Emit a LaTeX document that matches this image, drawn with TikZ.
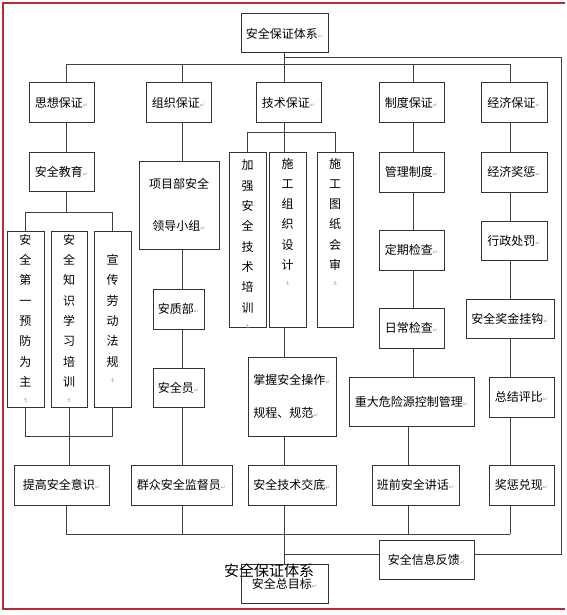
\documentclass[tikz,border=0pt]{standalone}
\usepackage{fontspec}
\usepackage{graphicx}
\newfontfamily\cjk{Noto Sans CJK SC}
\newfontfamily\symfont{DejaVu Sans}
\definecolor{framered}{RGB}{185,45,50}
% paragraph marks
\newcommand\mk{{\symfont\fontsize{6}{6}\selectfont\textcolor{black!40}{↵}}}
\newcommand\vmk{\rotatebox{-90}{\mk}}
% vertical text column
\newcommand\vcol[3]{\parbox[c][#1][#2]{14pt}{\centering\baselineskip=20.3pt\relax #3\\[-8pt]\vmk}}

\begin{document}
\begin{tikzpicture}[x=1pt,y=-1pt,
  box/.style={draw=black!80, line width=1pt, inner sep=0pt, font=\cjk\fontsize{12}{14}\selectfont},
  link/.style={draw=black!75, line width=1pt}]
\useasboundingbox (0,0) rectangle (566,615);

% frame
\draw[framered, line width=1.3pt] (565,3) -- (3,3) -- (3,609) -- (565,609);

% top
\node[box, minimum width=87pt, minimum height=39pt] (top) at (284.5,33.5) {安全保证体系\mk};

% first row
\node[box, minimum width=65pt, minimum height=39pt] (sx) at (61.5,102.5) {思想保证\mk};
\node[box, minimum width=65pt, minimum height=39pt] (zz) at (178.5,102.5) {组织保证\mk};
\node[box, minimum width=65pt, minimum height=39pt] (js) at (288.5,102.5) {技术保证\mk};
\node[box, minimum width=65pt, minimum height=39pt] (zd) at (411.5,102.5) {制度保证\mk};
\node[box, minimum width=66pt, minimum height=39pt] (jj) at (514,102.5) {经济保证\mk};

% thought
\node[box, minimum width=65pt, minimum height=39pt] (aqjy) at (61.5,171.5) {安全教育\mk};
\node[box, minimum width=37pt, minimum height=176pt] (dyyf) at (25.5,319) {\vcol{176pt}{c}{安\\全\\第\\一\\预\\防\\为\\主}};
\node[box, minimum width=36pt, minimum height=176pt] (zsxx) at (69,319) {\vcol{176pt}{c}{安\\全\\知\\识\\学\\习\\培\\训}};
\node[box, minimum width=37pt, minimum height=176pt] (xc) at (112.5,319) {\vcol{176pt}{c}{宣\\传\\劳\\动\\法\\规}};
\node[box, minimum width=95pt, minimum height=40pt] (tg) at (61.5,485) {提高安全意识\mk};

% organisation
\node[box, minimum width=80pt, minimum height=88pt, align=center, font=\cjk\fontsize{12}{42}\selectfont] (xmb) at (179,205) {项目部安全\\领导小组\mk};
\node[box, minimum width=51pt, minimum height=40pt] (azb) at (178.5,309) {安质部\mk};
\node[box, minimum width=51pt, minimum height=39pt] (aqy) at (178.5,387.5) {安全员\mk};
\node[box, minimum width=101pt, minimum height=40pt] (qz) at (181.5,485) {群众安全监督员\mk};

% technique
\node[box, minimum width=37pt, minimum height=175pt] (jq) at (247.5,239.5) {\vcol{175pt}{t}{\vspace*{8pt}加\\强\\安\\全\\技\\术\\培\\训}};
\node[box, minimum width=37pt, minimum height=175pt] (sg) at (287.5,239.5) {\vcol{175pt}{t}{\vspace*{6pt}施\\工\\组\\织\\设\\计}};
\node[box, minimum width=36pt, minimum height=175pt] (tz) at (335,239.5) {\vcol{175pt}{t}{\vspace*{6pt}施\\工\\图\\纸\\会\\审}};
\node[box, minimum width=88pt, minimum height=79pt, align=left, font=\cjk\fontsize{12}{33}\selectfont] (zw) at (292,396.5) {\raisebox{-5pt}{掌握安全操作\mk}\\\raisebox{-5pt}{规程、规范\mk}};
\node[box, minimum width=88pt, minimum height=40pt] (jd) at (292,485) {安全技术交底\mk};

% system
\node[box, minimum width=65pt, minimum height=40pt] (glzd) at (411.5,172) {管理制度\mk};
\node[box, minimum width=65pt, minimum height=40pt] (dq) at (411.5,250) {定期检查\mk};
\node[box, minimum width=65pt, minimum height=40pt] (rc) at (411.5,328) {日常检查\mk};
\node[box, minimum width=125pt, minimum height=49pt] (zdw) at (411.5,401.5) {重大危险源控制管理\mk};
\node[box, minimum width=87pt, minimum height=40pt] (bq) at (415.5,485) {班前安全讲话\mk};

% economy
\node[box, minimum width=66pt, minimum height=40pt] (jjjc) at (514,172) {经济奖惩\mk};
\node[box, minimum width=66pt, minimum height=39pt] (xz) at (514,240.5) {行政处罚\mk};
\node[box, minimum width=88pt, minimum height=39pt] (jg) at (510,318.5) {安全奖金挂钩\mk};
\node[box, minimum width=65pt, minimum height=40pt] (zj) at (521.5,397) {总结评比\mk};
\node[box, minimum width=65pt, minimum height=40pt] (dx) at (521.5,485) {奖惩兑现\mk};

% bottom
\node[box, minimum width=95pt, minimum height=39pt] (fk) at (426.5,559.5) {安全信息反馈\mk};
\node[box, minimum width=87pt, minimum height=39pt] (mb) at (284.5,583.5) {\raisebox{-7pt}{安全总目标\mk}};
\node[inner sep=0pt, font=\cjk\fontsize{15}{15}\selectfont] (cap) at (269,570.5) {安全保证体系};

% column lines and levels
\coordinate (c1) at (66,0);
\coordinate (c2) at (182,0);
\coordinate (c3) at (284,0);
\coordinate (c4) at (413,0);
\coordinate (c4b) at (408,0);
\coordinate (c5) at (510,0);
\coordinate (br) at (0,65);
\coordinate (b1) at (0,212);
\coordinate (b2) at (0,436);
\coordinate (b3) at (0,534);
\coordinate (b4) at (0,132);
\coordinate (fb) at (0,554);
\coordinate (rt) at (561,58);

% branches under the top
\draw[link] (top.south -| c3) -- (c3 |- br);
\draw[link] (sx.north -| c1) -- (c1 |- br) -- (c5 |- br) -- (jj.north -| c5);
\foreach \n/\c in {zz/c2, js/c3, zd/c4}
  \draw[link] (\n.north -| \c) -- (\c |- br);

% feedback loop
\draw[link] (c3 |- rt) -- (rt) -- (rt |- fb) -- (fk.east |- fb);
\draw[link] (fk.west |- fb) -- (c3 |- fb);

% thought
\draw[link] (sx.south -| c1) -- (aqjy.north -| c1);
\draw[link] (aqjy.south -| c1) -- (c1 |- b1);
\draw[link] (dyyf.north) -- (dyyf.north |- b1) -- (xc.north |- b1) -- (xc.north);
\draw[link] (dyyf.south) -- (dyyf.south |- b2) -- (xc.south |- b2) -- (xc.south);
\draw[link] (zsxx.south) -- (zsxx.south |- tg.north);
\draw[link] (tg.south -| c1) -- (c1 |- b3);

% organisation
\foreach \a/\b in {zz/xmb, xmb/azb, azb/aqy, aqy/qz}
  \draw[link] (\a.south -| c2) -- (\b.north -| c2);
\draw[link] (qz.south -| c2) -- (c2 |- b3);

% technique
\draw[link] (js.south -| c3) -- (sg.north -| c3);
\draw[link] (jq.north) -- (jq.north |- b4) -- (tz.north |- b4) -- (tz.north);
\draw[link] (sg.south -| c3) -- (zw.north -| c3);
\draw[link] (zw.south -| c3) -- (jd.north -| c3);
\draw[link] (jd.south -| c3) -- (mb.north -| c3);

% system
\foreach \a/\b in {zd/glzd, glzd/dq, dq/rc, rc/zdw}
  \draw[link] (\a.south -| c4) -- (\b.north -| c4);
\draw[link] (zdw.south -| c4b) -- (bq.north -| c4b);
\draw[link] (bq.south -| c4b) -- (c4b |- b3);

% economy
\foreach \a/\b in {jj/jjjc, jjjc/xz, xz/jg, jg/zj, zj/dx}
  \draw[link] (\a.south -| c5) -- (\b.north -| c5);
\draw[link] (dx.south -| c5) -- (c5 |- b3);

% bottom collector
\draw[link] (c1 |- b3) -- (c5 |- b3);
\end{tikzpicture}
\end{document}
